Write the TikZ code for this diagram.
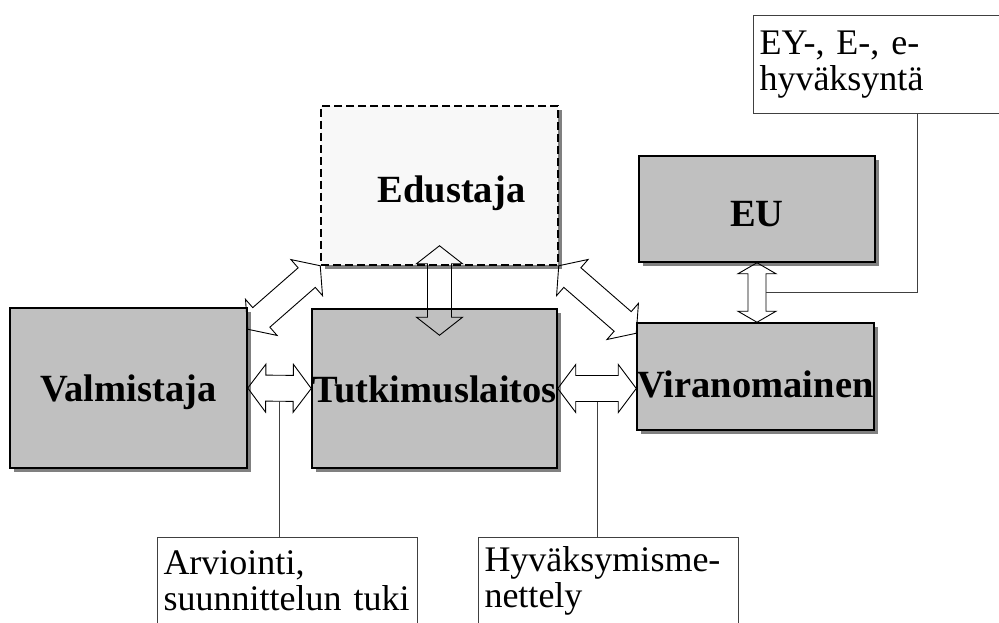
\documentclass[tikz,border=0pt]{standalone}
\usepackage{fontspec}
\setmainfont{Liberation Serif}
\usetikzlibrary{calc,shadows}

\definecolor{boxgray}{HTML}{C0C0C0}
\definecolor{shadowgray}{HTML}{808080}
\definecolor{repfill}{HTML}{F8F8F8}
\definecolor{notegray}{HTML}{404040}

\newcommand{\bigbold}{\fontsize{38.5}{40}\selectfont\bfseries}
\newcommand{\notetext}{\fontsize{36}{36.5}\selectfont}

% hollow double arrow: tail, tip, shaft half width, head half width, head length
\newcommand{\dblarrow}[5]{%
  \draw[hollow] (#1)
    -- ($($(#1)!#5!(#2)$)!#4!90:(#2)$)
    -- ($($(#1)!#5!(#2)$)!#3!90:(#2)$)
    -- ($($(#2)!#5!(#1)$)!#3!-90:(#1)$)
    -- ($($(#2)!#5!(#1)$)!#4!-90:(#1)$)
    -- (#2)
    -- ($($(#2)!#5!(#1)$)!#4!90:(#1)$)
    -- ($($(#2)!#5!(#1)$)!#3!90:(#1)$)
    -- ($($(#1)!#5!(#2)$)!#3!-90:(#2)$)
    -- ($($(#1)!#5!(#2)$)!#4!-90:(#2)$)
    -- cycle;}

\tikzset{
  box/.style={draw,line width=1.5pt,fill=boxgray,font=\bigbold,inner sep=0pt,
    text depth=0pt,
    drop shadow={shadow xshift=4pt,shadow yshift=-4pt,fill=shadowgray,opacity=1}},
  repbox/.style={box,fill=repfill,dash pattern=on 8pt off 4pt},
  note/.style={draw=notegray,line width=1pt,anchor=north west,align=left,
    font=\notetext,inner xsep=6pt,inner ysep=7pt},
  hollow/.style={draw,line width=0.9pt,line join=miter},
  leader/.style={draw=notegray,line width=1pt}
}

\begin{document}
\begin{tikzpicture}[x=1pt,y=-1pt]
  \useasboundingbox (0,0) rectangle (999,623);

  % main boxes
  \node (valm) at (128.5,388) [box,minimum width=237pt,minimum height=160pt,text height=26pt] {Valmistaja};
  \node (tutk) at (434.5,388.5) [box,minimum width=245pt,minimum height=159pt,text height=28pt] {Tutkimuslaitos};
  \node (edus) at (439.5,185.5) [repbox,minimum width=237pt,minimum height=159pt,text height=34pt] {\hspace*{24pt}Edustaja};
  \node (eu)   at (757,209) [box,minimum width=236pt,minimum height=106pt,text height=35pt] {EU};
  \node (vira) at (755.5,376.5) [box,minimum width=237pt,minimum height=107pt,text height=42pt] {Viranomainen};

  % callouts
  \node (arvi) at (157,537) [note,text width=248pt,minimum height=87pt] {Arviointi,\\suunnittelun tuki};
  \node (hyva) at (478,537) [note,text width=248pt,minimum height=87pt] {Hyväksymisme-\\nettely};
  \node (ey)   at (753,15) [note,text width=316pt,inner ysep=15pt] {EY-, E-, e-\\hyväksyntä};

  % arrow ends
  \coordinate (ve1) at ($(valm.north east)+(0,22)$);
  \coordinate (vr1) at ($(vira.north west)+(0,11)$);
  \coordinate (et1) at ($(edus.south)+(0,-20)$);
  \coordinate (et2) at ($(edus.south |- tutk.north)+(0,27)$);
  \coordinate (tv2) at (tutk.east -| vira.west);
  \coordinate (ev2) at (eu.south |- vira.north);

  \dblarrow{ve1}{edus.south west}{13pt}{24pt}{18pt}
  \dblarrow{valm.east}{tutk.west}{13pt}{24pt}{18pt}
  \dblarrow{et1}{et2}{12pt}{23pt}{18pt}
  \dblarrow{edus.south east}{vr1}{13pt}{24pt}{18pt}
  \dblarrow{tutk.east}{tv2}{13pt}{24pt}{18pt}
  \dblarrow{eu.south}{ev2}{9pt}{19pt}{11pt}

  % callout lines
  \coordinate (vtfoot) at ($(valm.east)!.5!(tutk.west)+(0,13)$);
  \coordinate (tvfoot) at ($(tutk.east)!.5!(tv2)+(0,13)$);
  \coordinate (evside) at ($(eu.south)!.5!(ev2)+(9,0)$);
  \draw[leader] (vtfoot) -- (vtfoot |- arvi.north);
  \draw[leader] (tvfoot) -- (tvfoot |- hyva.north);
  \draw[leader] (evside) -| (ey.south);
\end{tikzpicture}
\end{document}
